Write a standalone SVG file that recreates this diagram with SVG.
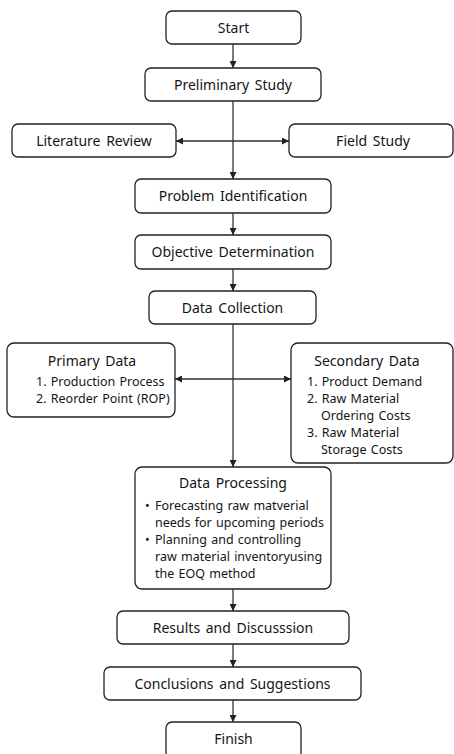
<svg xmlns="http://www.w3.org/2000/svg" width="454" height="754" viewBox="0 0 454 754">
<style>
.box{fill:#fff;stroke:#222;stroke-width:1.3}
text{font-family:"Noto Sans","DejaVu Sans",sans-serif;fill:#151515}
.t{font-size:14px;text-anchor:middle;word-spacing:2px}
.s{font-size:12.5px;word-spacing:1px}
.c{stroke:#333;stroke-width:1.3;fill:none}
</style>
<defs>
<marker id="ah" viewBox="0 0 10 10" refX="10" refY="5" markerWidth="7" markerHeight="7" markerUnits="userSpaceOnUse" orient="auto-start-reverse">
<path d="M0,0 L10,5 L0,10 z" fill="#222"/>
</marker>
</defs>
<rect width="454" height="754" fill="#fff"/>
<g id="connectors">
<line class="c" x1="233" y1="44" x2="233" y2="68" marker-end="url(#ah)"/>
<line class="c" x1="233" y1="101" x2="233" y2="179" marker-end="url(#ah)"/>
<line class="c" x1="176" y1="141" x2="289" y2="141" marker-start="url(#ah)" marker-end="url(#ah)"/>
<line class="c" x1="233" y1="213" x2="233" y2="235" marker-end="url(#ah)"/>
<line class="c" x1="233" y1="269" x2="233" y2="291" marker-end="url(#ah)"/>
<line class="c" x1="233" y1="324" x2="233" y2="467" marker-end="url(#ah)"/>
<line class="c" x1="175" y1="379" x2="291" y2="379" marker-start="url(#ah)" marker-end="url(#ah)"/>
<line class="c" x1="233" y1="589" x2="233" y2="611" marker-end="url(#ah)"/>
<line class="c" x1="233" y1="644" x2="233" y2="667" marker-end="url(#ah)"/>
<line class="c" x1="233" y1="700" x2="233" y2="722" marker-end="url(#ah)"/>
</g>
<g id="start"><rect class="box" x="166" y="11" width="135" height="33" rx="6"/><text class="t" x="233.5" y="32.5">Start</text></g>
<g id="preliminary"><rect class="box" x="145" y="68" width="176" height="33" rx="6"/><text class="t" x="233" y="89.5">Preliminary Study</text></g>
<g id="literature"><rect class="box" x="12" y="124" width="164" height="33" rx="6"/><text class="t" x="94" y="145.5">Literature Review</text></g>
<g id="field"><rect class="box" x="289" y="124" width="164" height="33" rx="6"/><text class="t" x="373" y="145.5">Field Study</text></g>
<g id="problem"><rect class="box" x="135" y="179" width="196" height="34" rx="6"/><text class="t" x="233" y="201">Problem Identification</text></g>
<g id="objective"><rect class="box" x="135" y="235" width="196" height="34" rx="6"/><text class="t" x="233" y="257">Objective Determination</text></g>
<g id="collection"><rect class="box" x="149" y="291" width="167" height="33" rx="6"/><text class="t" x="232.5" y="312.5">Data Collection</text></g>
<g id="primary"><rect class="box" x="7" y="343" width="168" height="74" rx="7"/>
<text class="t" x="92" y="366">Primary Data</text>
<text class="s" x="36" y="386">1. Production Process</text>
<text class="s" x="36" y="403">2. Reorder Point (ROP)</text></g>
<g id="secondary"><rect class="box" x="291" y="343" width="162" height="120" rx="7"/>
<text class="t" x="367" y="366">Secondary Data</text>
<text class="s" x="307" y="386">1. Product Demand</text>
<text class="s" x="307" y="403">2. Raw Material</text>
<text class="s" x="321" y="420">Ordering Costs</text>
<text class="s" x="307" y="437">3. Raw Material</text>
<text class="s" x="321" y="454">Storage Costs</text></g>
<g id="processing"><rect class="box" x="135" y="467" width="196" height="122" rx="7"/>
<text class="t" x="233" y="488">Data Processing</text>
<text class="s" x="145" y="510">•</text>
<text class="s" x="155" y="510">Forecasting raw matverial</text>
<text class="s" x="155" y="527">needs for upcoming periods</text>
<text class="s" x="145" y="544">•</text>
<text class="s" x="155" y="544">Planning and controlling</text>
<text class="s" x="155" y="561">raw material inventoryusing</text>
<text class="s" x="155" y="578">the EOQ method</text></g>
<g id="results"><rect class="box" x="117" y="611" width="232" height="33" rx="6"/><text class="t" x="233" y="632.5">Results and Discusssion</text></g>
<g id="conclusions"><rect class="box" x="104" y="667" width="257" height="33" rx="6"/><text class="t" x="232.5" y="688.5">Conclusions and Suggestions</text></g>
<g id="finish"><rect class="box" x="166" y="722" width="135" height="40" rx="6"/><text class="t" x="233.5" y="743.5">Finish</text></g>
</svg>
